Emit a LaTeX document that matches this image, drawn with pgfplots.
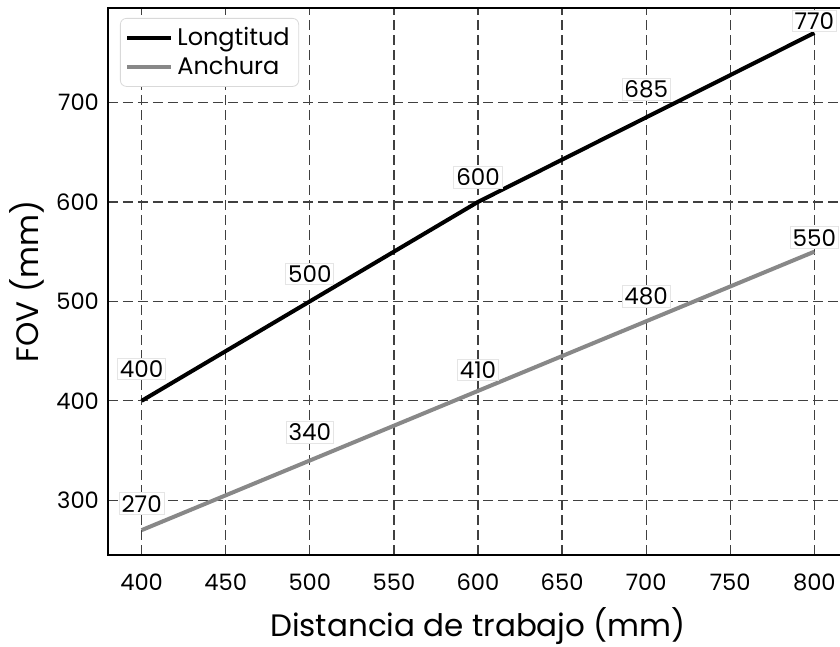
\documentclass[border=0pt]{standalone}
\usepackage{fontspec}
\setmainfont{Poppins}
\usepackage{pgfplots}
\pgfplotsset{compat=1.18}

\definecolor{lineGray}{RGB}{136,136,136}

\pgfplotstableread{
x   y
400 400
500 500
600 600
700 685
800 770
}\longitud

\pgfplotstableread{
x   y
400 270
500 340
600 410
700 480
800 550
}\anchura

\pgfplotsset{
    labelled/.style={
        draw=none, mark=none, forget plot,
        nodes near coords,
        point meta=explicit symbolic,
        every node near coord/.append style={anchor=center, yshift=#1,
            font=\fontsize{11.5}{13}\selectfont, fill=white, draw=black!10,
            inner sep=1.2pt, text=black},
    },
}
% value label at (x,y), raised by dy
\newcommand{\lab}[3]{\addplot[labelled=#3pt] coordinates {(#1,#2) [#2]};}

\begin{document}
\begin{tikzpicture}
\begin{axis}[
    scale only axis,
    width=370pt, height=273.5pt,
    xmin=380, xmax=820,
    ymin=245, ymax=795,
    xtick={400,450,...,800},
    ytick={300,400,...,700},
    major tick length=0pt,
    /pgf/number format/assume math mode=true,
    tick label style={font=\fontsize{11.3}{13}\selectfont},
    xticklabel style={yshift=-6pt},
    yticklabel style={xshift=-1pt},
    xlabel={Distancia de trabajo (mm)},
    ylabel={FOV (mm)},
    label style={font=\fontsize{15.5}{18}\selectfont},
    xlabel style={yshift=-1.5pt},
    ylabel style={yshift=-1pt},
    axis line style={line width=1pt},
    grid=major,
    major grid style={black!75, line width=0.6pt, dash pattern=on 5pt off 2.5pt},
    clip=false,
    legend style={at={(0,1)}, anchor=north west, xshift=6pt, yshift=-5pt,
        draw=black!15, rounded corners=3pt, fill=white,
        font=\fontsize{12}{14}\selectfont, inner sep=2.5pt,
        row sep=0pt},
    legend cell align=left,
    legend image code/.code={\draw[#1, line width=2pt] (0pt,0pt) -- (22pt,0pt);},
]
\addplot[black, line width=2pt] table[x=x, y=y] {\longitud};
\addlegendentry{Longtitud}
\addplot[lineGray, line width=2pt] table[x=x, y=y] {\anchura};
\addlegendentry{Anchura}
\lab{400}{400}{16}
\lab{500}{500}{13.75}
\lab{600}{600}{12.25}
\lab{700}{685}{14}
\lab{800}{770}{6}
\lab{400}{270}{13.25}
\lab{500}{340}{14}
\lab{600}{410}{10.5}
\lab{700}{480}{12.5}
\lab{800}{550}{7}
\end{axis}
\pgfresetboundingbox
\path[use as bounding box] (current axis.south west) ++(-54pt,-46pt) rectangle ++(420pt,323.5pt);
\end{tikzpicture}
\end{document}
